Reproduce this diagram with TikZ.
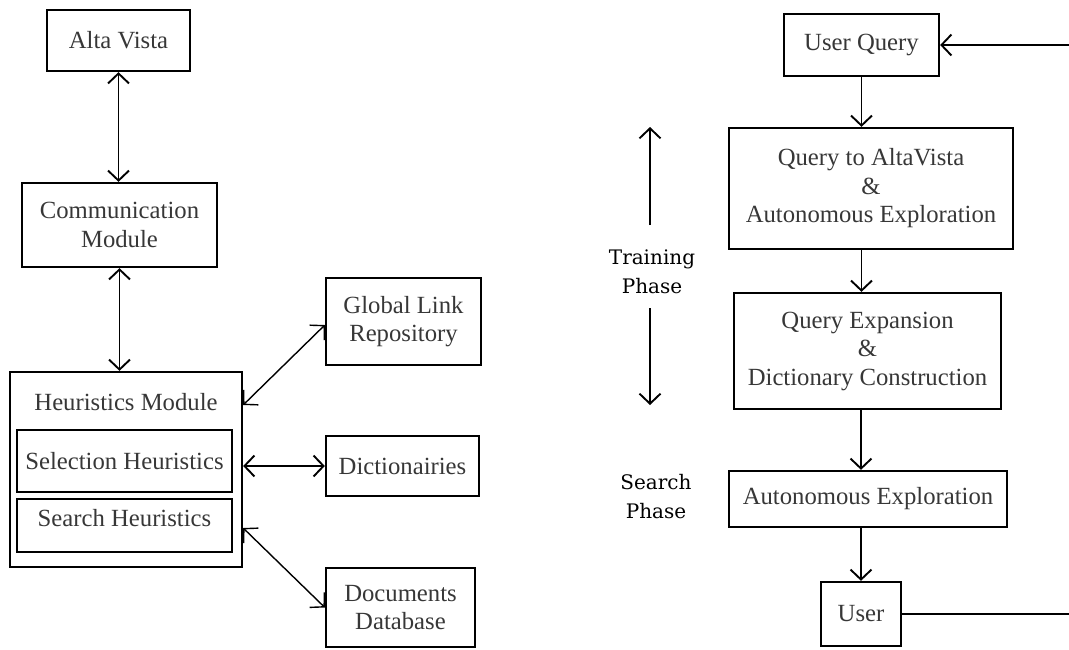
\documentclass[tikz,border=0pt]{standalone}
\usepackage{fontspec}
\setmainfont{Liberation Serif}
\newfontfamily\phasefont{DejaVu Serif}
\usetikzlibrary{arrows.meta, calc}
\definecolor{mytext}{RGB}{55,55,55}
\tikzset{
  box/.style={rectangle, draw=black, line width=2.3pt, align=center,
    inner sep=0pt, text=mytext, font=\fontsize{24.7}{28.5}\selectfont},
  lbl/.style={inner sep=0pt, text=mytext, font=\fontsize{24.7}{28.5}\selectfont},
  phase/.style={align=center, inner sep=0pt, text=black,
    font=\phasefont\fontsize{20}{29}\selectfont},
  arrow/.style={-{Straight Barb[length=10pt,width=21pt]}, line width=1.9pt},
  biarrow/.style={{Straight Barb[length=10pt,width=21pt]}-{Straight Barb[length=10pt,width=21pt]}, line width=1.9pt},
  line/.style={line width=1.9pt}
}
\begin{document}
\begin{tikzpicture}[x=1pt, y=-1pt]
  \useasboundingbox (0,0) rectangle (1069,649);

  % left: agent modules
  \node[box, minimum width=143pt, minimum height=61pt] (alta) at (118.5,40.5) {Alta Vista};
  \node[box, minimum width=195pt, minimum height=84pt] (comm) at (119.5,225) {Communication\\Module};
  \node[box, minimum width=232pt, minimum height=195pt] (heur) at (126,469.5) {};
  \node[lbl] (heurlbl) at (126,402) {Heuristics Module};
  \node[box, minimum width=215pt, minimum height=62pt] (sel) at (124.5,461) {Selection Heuristics};
  \node[box, minimum width=215pt, minimum height=53pt, text depth=16pt] (srch) at (124.5,525.5) {Search Heuristics};
  \node[box, minimum width=155pt, minimum height=87pt] (glr) at (403.5,321.5) {Global Link\\Repository};
  \node[box, minimum width=153pt, minimum height=60pt] (dict) at (402.5,466) {Dictionairies};
  \node[box, minimum width=149pt, minimum height=79pt] (docs) at (400.5,607.5) {Documents\\Database};

  \draw[biarrow] (alta.south) -- (alta.south |- comm.north);
  \draw[biarrow] (comm.south) -- (comm.south |- heur.north);
  \draw[biarrow, line width=1.4pt] ([yshift=64.5pt]heur.east) -- ([yshift=-3.5pt]glr.west);
  \draw[biarrow] (dict.west -| heur.east) -- (dict.west);
  \draw[biarrow, line width=1.4pt] ([yshift=-58.5pt]heur.east) -- (docs.west);

  % right: phases
  \node[box, minimum width=155pt, minimum height=62pt] (uq) at (861.5,45) {User Query};
  \node[box, minimum width=284pt, minimum height=121pt] (qav) at (871,188.5) {Query to AltaVista\\\&\\Autonomous Exploration};
  \node[box, minimum width=267pt, minimum height=116pt] (qe) at (867.5,351) {Query Expansion\\\&\\Dictionary Construction};
  \node[box, minimum width=278pt, minimum height=56pt] (ae) at (868,499) {Autonomous Exploration};
  \node[box, minimum width=80pt, minimum height=64pt] (user) at (861,614) {User};

  \draw[arrow] (uq.south) -- (uq.south |- qav.north);
  \draw[arrow] (uq.south |- qav.south) -- (uq.south |- qe.north);
  \draw[arrow] (user.north |- qe.south) -- (user.north |- ae.north);
  \draw[arrow] (user.north |- ae.south) -- (user.north);

  \coordinate (loopin) at (1069,45);
  \coordinate (loopout) at (1069,614);
  \draw[line] (user.east) -- (loopout);
  \draw[arrow] (loopin) -- (uq.east);

  \node[phase] (train) at (652,272) {Training\\Phase};
  \coordinate (trainA) at (650,225);
  \coordinate (trainup) at (650,127);
  \coordinate (trainB) at (650,308);
  \coordinate (traindown) at (650,405);
  \draw[arrow] (trainA) -- (trainup);
  \draw[arrow] (trainB) -- (traindown);
  \node[phase] (search) at (656,497) {Search\\Phase};
\end{tikzpicture}
\end{document}
